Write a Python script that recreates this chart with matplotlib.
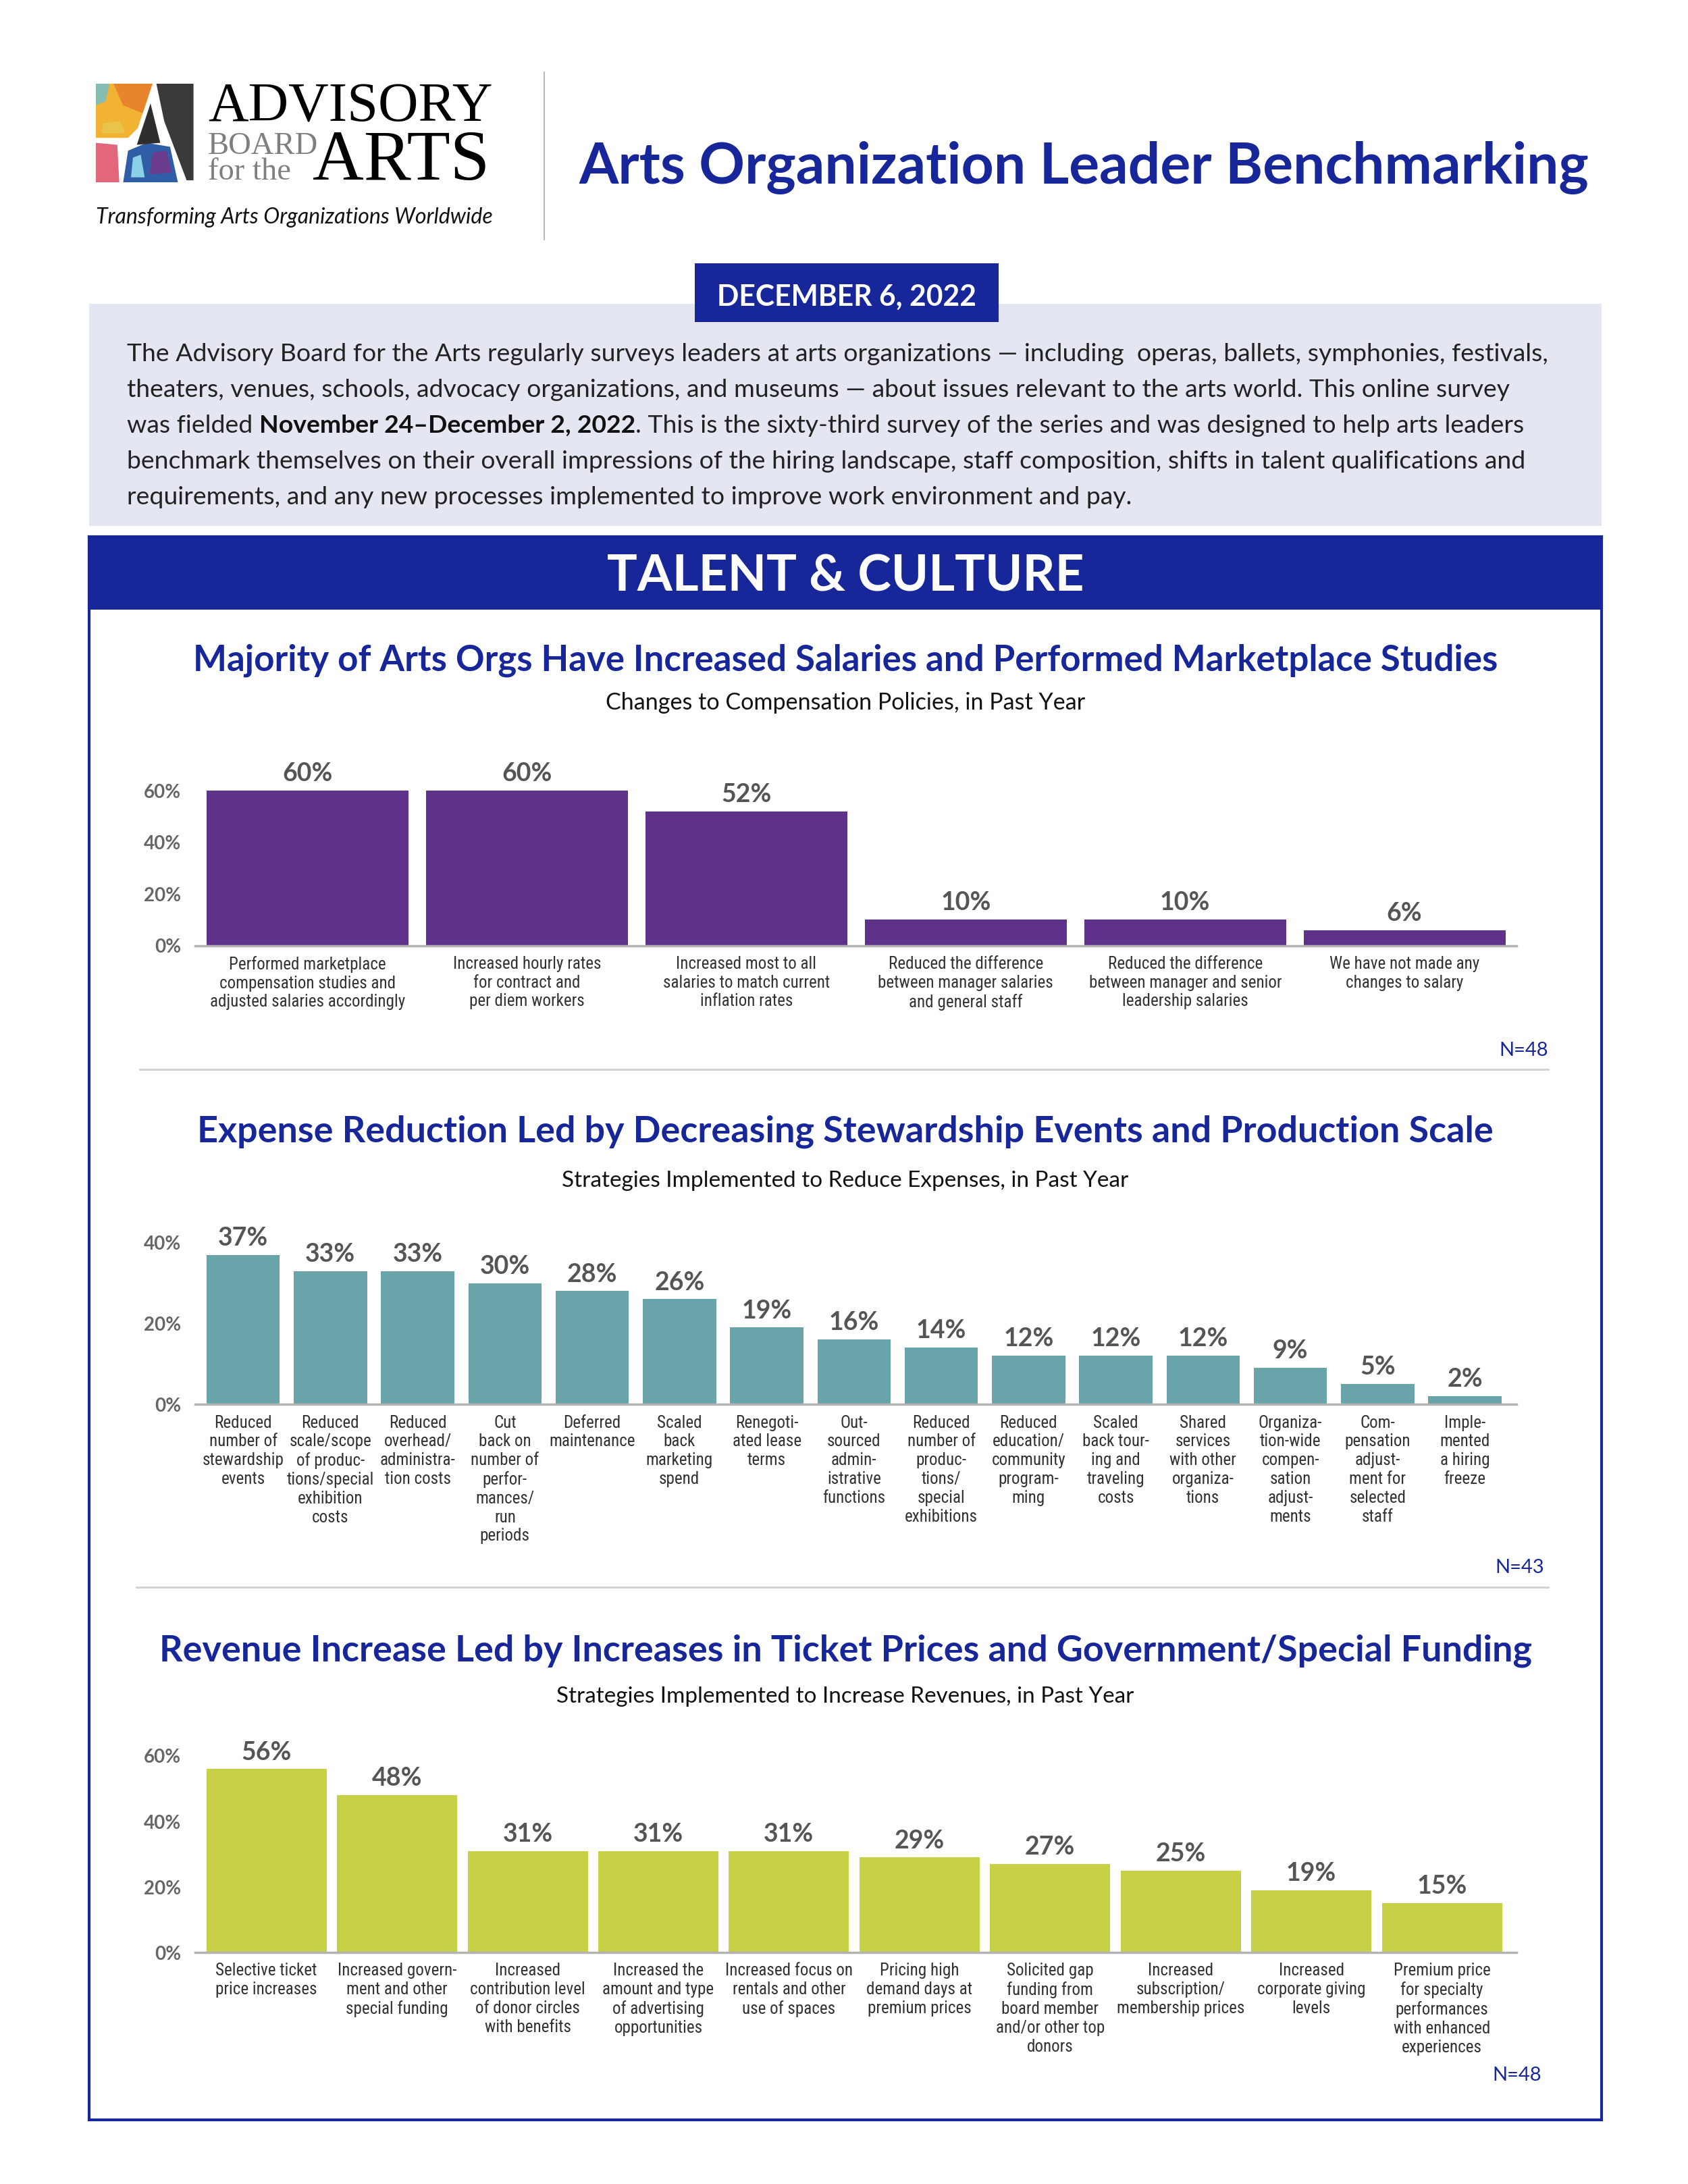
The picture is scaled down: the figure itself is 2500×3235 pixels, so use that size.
import matplotlib
matplotlib.use("Agg")
import matplotlib.pyplot as plt
from matplotlib import font_manager
from matplotlib.patches import Rectangle, Polygon
from matplotlib.lines import Line2D

# ---- dados dos três gráficos ----
comp_labels = [
    "Performed marketplace\ncompensation studies and\nadjusted salaries accordingly",
    "Increased hourly rates\nfor contract and\nper diem workers",
    "Increased most to all\nsalaries to match current\ninflation rates",
    "Reduced the difference\nbetween manager salaries\nand general staff",
    "Reduced the difference\nbetween manager and senior\nleadership salaries",
    "We have not made any\nchanges to salary",
]
comp_values = [60, 60, 52, 10, 10, 6]
comp_ticks = [0, 20, 40, 60]

exp_labels = [
    "Reduced\nnumber of\nstewardship\nevents",
    "Reduced\nscale/scope\nof produc-\ntions/special\nexhibition\ncosts",
    "Reduced\noverhead/\nadministra-\ntion costs",
    "Cut\nback on\nnumber of\nperfor-\nmances/\nrun\nperiods",
    "Deferred\nmaintenance",
    "Scaled\nback\nmarketing\nspend",
    "Renegoti-\nated lease\nterms",
    "Out-\nsourced\nadmin-\nistrative\nfunctions",
    "Reduced\nnumber of\nproduc-\ntions/\nspecial\nexhibitions",
    "Reduced\neducation/\ncommunity\nprogram-\nming",
    "Scaled\nback tour-\ning and\ntraveling\ncosts",
    "Shared\nservices\nwith other\norganiza-\ntions",
    "Organiza-\ntion-wide\ncompen-\nsation\nadjust-\nments",
    "Com-\npensation\nadjust-\nment for\nselected\nstaff",
    "Imple-\nmented\na hiring\nfreeze",
]
exp_values = [37, 33, 33, 30, 28, 26, 19, 16, 14, 12, 12, 12, 9, 5, 2]
exp_ticks = [0, 20, 40]

rev_labels = [
    "Selective ticket\nprice increases",
    "Increased govern-\nment and other\nspecial funding",
    "Increased\ncontribution level\nof donor circles\nwith benefits",
    "Increased the\namount and type\nof advertising\nopportunities",
    "Increased focus on\nrentals and other\nuse of spaces",
    "Pricing high\ndemand days at\npremium prices",
    "Solicited gap\nfunding from\nboard member\nand/or other top\ndonors",
    "Increased\nsubscription/\nmembership prices",
    "Increased\ncorporate giving\nlevels",
    "Premium price\nfor specialty\nperformances\nwith enhanced\nexperiences",
]
rev_values = [56, 48, 31, 31, 31, 29, 27, 25, 19, 15]
rev_ticks = [0, 20, 40, 60]

intro_lines = [
    "The Advisory Board for the Arts regularly surveys leaders at arts organizations \u2014 including  operas, ballets, symphonies, festivals,",
    "theaters, venues, schools, advocacy organizations, and museums \u2014 about issues relevant to the arts world. This online survey",
    None,
    "benchmark themselves on their overall impressions of the hiring landscape, staff composition, shifts in talent qualifications and",
    "requirements, and any new processes implemented to improve work environment and pay.",
]
line3_parts = ["was fielded", "November 24\u2013December 2, 2022",
               ". This is the sixty-third survey of the series and was designed to help arts leaders"]

# ---- cores e fontes ----
NAVY = "#17279a"
LAVENDER = "#e4e6f2"
PURPLE = "#5e318a"
TEAL = "#68a4aa"
LIME = "#c8d146"
VALUE_GRAY = "#555555"
TICK_GRAY = "#666666"
LABEL_GRAY = "#333333"

SANS = "Lato"
SERIF = "Liberation Serif"
installed = {f.name for f in font_manager.fontManager.ttflist}
NARROW = SANS
for cand in ["Liberation Sans Narrow", "Roboto Condensed", "Open Sans Condensed"]:
    if cand in installed:
        NARROW = cand
        break

# coordenadas de referência (imagem 1210 x 1566)
W_D, H_D = 1210, 1566
PX = 2500 / W_D

fig = plt.figure(figsize=(25, 32.35), dpi=100)
fig.patch.set_facecolor("white")
renderer = fig.canvas.get_renderer()


def fx(x):
    return x / W_D


def fy(y):
    return 1 - y / H_D


def text_width(s, size, **kw):
    t = fig.text(0, 0, s, fontsize=size, **kw)
    w = t.get_window_extent(renderer).width
    t.remove()
    return w


def fit(s, width, size_max=None, **kw):
    """Tamanho de letra para que o texto ocupe 'width' unidades."""
    size = 20 * width * PX / text_width(s, 20, **kw)
    if size_max:
        size = min(size, size_max)
    return size


def put(x, y, s, **kw):
    return fig.text(fx(x), fy(y), s, **kw)


def rect(x0, y0, x1, y1, **kw):
    r = Rectangle((fx(x0), fy(y1)), fx(x1) - fx(x0), fy(y0) - fy(y1),
                  transform=fig.transFigure, **kw)
    fig.add_artist(r)


def hline(x0, x1, y, **kw):
    fig.add_artist(Line2D([fx(x0), fx(x1)], [fy(y), fy(y)], transform=fig.transFigure, **kw))


# ---- logótipo ----
logo = fig.add_axes([fx(68.7), fy(130.7), fx(138.7) - fx(68.7), fy(60) - fy(130.7)])
logo.set_xlim(0, 1)
logo.set_ylim(0, 1)
logo.axis("off")
shapes = [
    ([(0, 0.45), (0, 1), (0.58, 1), (0.43, 0.55), (0.33, 0.45)], "#f2b233"),
    ([(0.18, 1), (0.58, 1), (0.48, 0.70), (0.28, 0.78)], "#e8842c"),
    ([(0, 0.78), (0, 1), (0.14, 1), (0.10, 0.82)], "#86bdb3"),
    ([(0.05, 0.5), (0.3, 0.5), (0.25, 0.62), (0.08, 0.6)], "#e9c34a"),
    ([(0, 0), (0.24, 0), (0.22, 0.38), (0, 0.40)], "#e2677b"),
    ([(0.28, 0), (0.84, 0), (0.76, 0.36), (0.52, 0.40), (0.33, 0.32)], "#2f5ea6"),
    ([(0.36, 0.05), (0.5, 0.05), (0.46, 0.28), (0.38, 0.25)], "#8ad0e6"),
    ([(0.55, 0.08), (0.78, 0.10), (0.72, 0.32), (0.58, 0.30)], "#6b3c8e"),
    ([(0.62, 1), (1, 1), (1, 0.02), (0.93, 0.02), (0.70, 0.62)], "#3a3a3a"),
    ([(0.42, 0.38), (0.56, 0.80), (0.66, 0.40)], "#2e2e2e"),
]
for pts, col in shapes:
    logo.add_patch(Polygon(pts, closed=True, facecolor=col, edgecolor="none"))

size = fit("ADVISORY", 204, family=SERIF)
put(149, 87, "ADVISORY", fontsize=size, family=SERIF, color="black", va="baseline")
size = fit("ARTS", 127, family=SERIF)
put(224, 129, "ARTS", fontsize=size, family=SERIF, color="black", va="baseline")
size = fit("BOARD", 79, family=SERIF)
put(149, 110.5, "BOARD", fontsize=size, family=SERIF, color="#7f7f7f", va="baseline")
put(149, 129, "for the", fontsize=size, family=SERIF, color="#7f7f7f", va="baseline")
tag = "Transforming Arts Organizations Worldwide"
size = fit(tag, 284, family=SANS, style="italic")
put(68.7, 160, tag, fontsize=size, family=SANS, style="italic", color="#111111", va="baseline")

fig.add_artist(Line2D([fx(390), fx(390)], [fy(52), fy(172)], transform=fig.transFigure,
                      color="#bbbbbb", lw=1.5))

title = "Arts Organization Leader Benchmarking"
size = fit(title, 723, family=SANS, weight="bold")
put(415, 131, title, fontsize=size, family=SANS, weight="bold", color=NAVY, va="baseline")

# ---- caixa de introdução ----
rect(64, 218, 1148, 377, facecolor=LAVENDER, edgecolor="none")
rect(498, 189, 716, 231, facecolor=NAVY, edgecolor="none")
date = "DECEMBER 6, 2022"
size = fit(date, 186, family=SANS, weight="bold")
put(607, 219, date, fontsize=size, family=SANS, weight="bold", color="white", ha="center", va="baseline")

para_size = fit(intro_lines[0], 1021, family=SANS)
baselines = [259, 284.7, 310.4, 336.1, 361.8]
for line, yb in zip(intro_lines, baselines):
    if line is not None:
        put(91, yb, line, fontsize=para_size, family=SANS, color="#222222", va="baseline")

space = (text_width("n n", para_size, family=SANS) - text_width("nn", para_size, family=SANS)) / PX
x = 91
put(x, baselines[2], line3_parts[0], fontsize=para_size, family=SANS, color="#222222", va="baseline")
x += text_width(line3_parts[0], para_size, family=SANS) / PX + space
put(x, baselines[2], line3_parts[1], fontsize=para_size, family=SANS, weight="bold", color="#111111", va="baseline")
x += text_width(line3_parts[1], para_size, family=SANS, weight="bold") / PX
put(x, baselines[2], line3_parts[2], fontsize=para_size, family=SANS, color="#222222", va="baseline")

# ---- faixa TALENT & CULTURE e moldura ----
rect(64, 385, 1148, 437, facecolor=NAVY, edgecolor="none")
band = "TALENT & CULTURE"
size = fit(band, 342, family=SANS, weight="bold")
put(606, 424, band, fontsize=size, family=SANS, weight="bold", color="white", ha="center", va="baseline")
rect(64, 385, 1148, 1520, facecolor="none", edgecolor=NAVY, lw=3)

label_size = fit("adjusted salaries accordingly", 140, size_max=18.5, family=NARROW)


def header(y_title, title, w_title, y_sub, sub, w_sub):
    s = fit(title, w_title, family=SANS, weight="bold")
    put(606, y_title, title, fontsize=s, family=SANS, weight="bold", color=NAVY, ha="center", va="baseline")
    s = fit(sub, w_sub, family=SANS)
    put(606, y_sub, sub, fontsize=s, family=SANS, color="#111111", ha="center", va="baseline")


def draw_chart(base_y, top_y, xlim, labels, values, ticks, ymax, color, width):
    ax = fig.add_axes([fx(140), fy(base_y), fx(1087) - fx(140), fy(top_y) - fy(base_y)])
    pos = list(range(len(values)))
    ax.bar(pos, values, width=width, color=color, zorder=2)
    ax.set_xlim(*xlim)
    ax.set_ylim(0, ymax)
    ax.set_xticks([])
    ax.set_yticks(ticks)
    ax.set_yticklabels([f"{t}%" for t in ticks], fontsize=20, family=SANS,
                       weight="bold", color=TICK_GRAY)
    ax.tick_params(axis="y", length=0, pad=15)
    for side in ["top", "right", "left"]:
        ax.spines[side].set_visible(False)
    ax.spines["bottom"].set_color("#b3b3b3")
    ax.spines["bottom"].set_linewidth(2.5)
    ax.spines["bottom"].set_zorder(3)
    ax.patch.set_alpha(0)
    for i, v in zip(pos, values):
        ax.annotate(f"{v}%", (i, v), xytext=(0, 10), textcoords="offset points",
                    ha="center", va="baseline", fontsize=27, family=SANS,
                    weight="bold", color=VALUE_GRAY, annotation_clip=False)
        ax.annotate(labels[i], (i, 0), xytext=(0, -11), textcoords="offset points",
                    ha="center", va="top", multialignment="center", linespacing=1.2,
                    fontsize=label_size, family=NARROW, color=LABEL_GRAY,
                    annotation_clip=False)
    return ax


# ---- gráfico 1 ----
header(481, "Majority of Arts Orgs Have Increased Salaries and Performed Marketplace Studies", 935,
       509, "Changes to Compensation Policies, in Past Year", 345)
draw_chart(678, 548.5, (-0.512, 5.51), comp_labels, comp_values, comp_ticks, 70, PURPLE, 0.92)
put(1110, 757, "N=48", fontsize=21, family=SANS, color=NAVY, ha="right", va="baseline")
hline(100, 1110, 767, color="#d0d0d0", lw=2)

# ---- gráfico 2 ----
header(819, "Expense Reduction Led by Decreasing Stewardship Events and Production Scale", 929,
       851, "Strategies Implemented to Reduce Expenses, in Past Year", 408)
draw_chart(1007, 876.5, (-0.548, 14.59), exp_labels, exp_values, exp_ticks, 45, TEAL, 0.84)
put(1107, 1128, "N=43", fontsize=21, family=SANS, color=NAVY, ha="right", va="baseline")
hline(98, 1110, 1138, color="#d0d0d0", lw=2)

# ---- gráfico 3 ----
header(1191, "Revenue Increase Led by Increases in Ticket Prices and Government/Special Funding", 984,
       1221, "Strategies Implemented to Increase Revenues, in Past Year", 415)
draw_chart(1400, 1245, (-0.545, 9.57), rev_labels, rev_values, rev_ticks, 66, LIME, 0.92)
put(1105, 1492, "N=48", fontsize=21, family=SANS, color=NAVY, ha="right", va="baseline")

fig.savefig("out.png", dpi=100)
